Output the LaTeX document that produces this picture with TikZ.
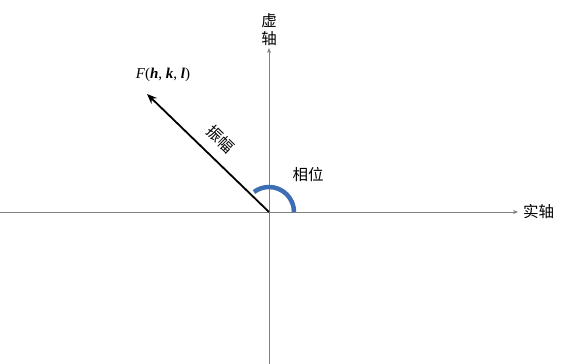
\documentclass[tikz,border=0pt]{standalone}
\usepackage{fontspec}
\setmainfont{Liberation Serif}
\newfontfamily\cjk{Noto Sans CJK SC}
\usetikzlibrary{positioning,arrows.meta}
\definecolor{axisgray}{HTML}{808080}
\definecolor{phaseblue}{HTML}{3D6EB4}

\begin{document}
\begin{tikzpicture}[
  x=1pt, y=1pt,
  axis/.style={draw=axisgray, line width=0.8pt, -{Stealth[length=5pt,width=4pt]}},
  vec/.style={draw=black, line width=1.8pt, -{Stealth[length=10pt,width=8pt]}},
  phase/.style={draw=phaseblue, line width=4.5pt},
  lbl/.style={font=\cjk\fontsize{15.5}{18}\selectfont, inner sep=1pt},
]
\useasboundingbox (0,0) rectangle (568,364);

\coordinate (O) at (269,152);
\coordinate (xl) at (0,152);
\coordinate (xr) at (518,152);
\coordinate (yb) at (269,0);
\coordinate (yt) at (269,316);
\coordinate (P) at (147,270);

% axes
\draw[axis] (xl) -- (xr);
\draw[axis] (yb) -- (yt);
\node[lbl, right=4pt of xr] (re) {实轴};
\node[lbl, align=center, above=1pt of yt] (im) {虚\\轴};

% amplitude vector
\draw[vec] (O) -- (P);
\node[font=\fontsize{15}{18}\selectfont, inner sep=1pt] (F) at (163,289)
  {\textit{F}(\textbf{\textit{h}}, \textbf{\textit{k}}, \textbf{\textit{l}})};
\node[lbl, rotate=-44] (amp) at (221,225) {振幅};

% phase angle
\draw[phase] ([xshift=25pt]O) arc[start angle=0, end angle=127, radius=25];
\node[lbl] (ph) at (308,189) {相位};

\end{tikzpicture}
\end{document}
